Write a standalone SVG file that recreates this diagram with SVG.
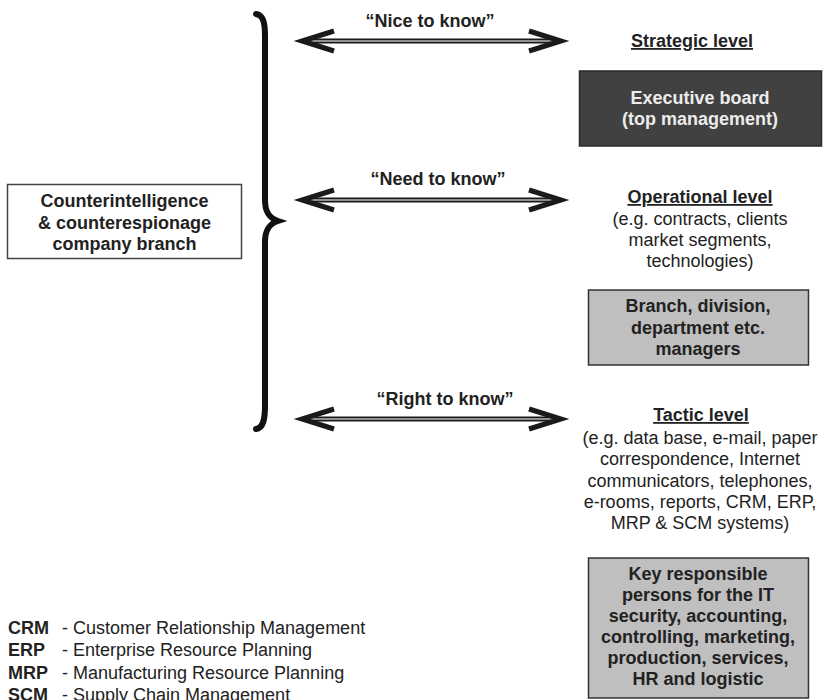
<svg xmlns="http://www.w3.org/2000/svg" width="824" height="700" viewBox="0 0 824 700">
  <style>
    text { font-family: "Liberation Sans", Arial, sans-serif; font-size: 18px; fill: #222; }
    .b { font-weight: bold; }
    .c { text-anchor: middle; }
    .u { text-decoration: underline; }
    .light { fill: #ececec; }
    .box { fill: #ffffff; stroke: #444; stroke-width: 1.5; }
    .dark { fill: #414141; stroke: #2a2a2a; stroke-width: 1.5; }
    .grey { fill: #bfbfbf; stroke: #333; stroke-width: 1.5; }
    .shaft { stroke: #1a1a1a; stroke-width: 5; fill: none; }
    .core { stroke: #b8b8b8; stroke-width: 1.6; fill: none; }
    .head { stroke: #1a1a1a; stroke-width: 5; fill: none; stroke-linejoin: miter; stroke-linecap: butt; }
    .brace { stroke: #111; stroke-width: 6; fill: none; stroke-linecap: round; }
  </style>
  <defs>
    <!-- double-headed arrow with a double-line shaft, drawn around y = 0 -->
    <g id="twoWay">
      <line class="shaft" x1="304" y1="0" x2="559" y2="0"/>
      <line class="core" x1="306" y1="0" x2="557" y2="0"/>
      <polyline class="head" points="334,-10 302,0 334,10"/>
      <polyline class="head" points="529,-10 561,0 529,10"/>
    </g>
  </defs>

  <!-- connectors: brace and the three information flows -->
  <g id="connectors">
    <path class="brace" d="M 256,14 C 263,15 265,22 265,36 L 265,200 C 265,212 269,218 278,221 C 269,224 265,230 265,242 L 265,406 C 265,420 263,428 256,429"/>
    <use href="#twoWay" y="41"/>
    <use href="#twoWay" y="200"/>
    <use href="#twoWay" y="419"/>
    <text class="b c" x="430" y="27">“Nice to know”</text>
    <text class="b c" x="438" y="185">“Need to know”</text>
    <text class="b c" x="445" y="405">“Right to know”</text>
  </g>

  <!-- counterintelligence branch -->
  <g id="branch">
    <rect class="box" x="7.5" y="184.5" width="234" height="74"/>
    <text class="b c" x="124.5" y="207">Counterintelligence</text>
    <text class="b c" x="124.5" y="229">&amp; counterespionage</text>
    <text class="b c" x="124.5" y="250">company branch</text>
  </g>

  <!-- strategic level -->
  <g id="strategic">
    <text class="b c u" x="692" y="47">Strategic level</text>
  </g>
  <g id="executive">
    <rect class="dark" x="579.5" y="71" width="242" height="75"/>
    <text class="b c light" x="700" y="104">Executive board</text>
    <text class="b c light" x="700" y="125">(top management)</text>
  </g>

  <!-- operational level -->
  <g id="operational">
    <text class="b c u" x="700" y="203">Operational level</text>
    <text class="c" x="700" y="225">(e.g. contracts, clients</text>
    <text class="c" x="700" y="246">market segments,</text>
    <text class="c" x="700" y="267">technologies)</text>
  </g>
  <g id="managers">
    <rect class="grey" x="588.5" y="290" width="220" height="75"/>
    <text class="b c" x="698" y="312">Branch, division,</text>
    <text class="b c" x="698" y="334">department etc.</text>
    <text class="b c" x="698" y="355">managers</text>
  </g>

  <!-- tactic level -->
  <g id="tactic">
    <text class="b c u" x="701" y="421">Tactic level</text>
    <text class="c" x="700" y="444">(e.g. data base, e-mail, paper</text>
    <text class="c" x="700" y="465">correspondence, Internet</text>
    <text class="c" x="700" y="487">communicators, telephones,</text>
    <text class="c" x="700" y="508">e-rooms, reports, CRM, ERP,</text>
    <text class="c" x="700" y="529">MRP &amp; SCM systems)</text>
  </g>
  <g id="keypersons">
    <rect class="grey" x="588.5" y="558" width="220" height="140"/>
    <text class="b c" x="698" y="580">Key responsible</text>
    <text class="b c" x="698" y="601">persons for the IT</text>
    <text class="b c" x="698" y="622">security, accounting,</text>
    <text class="b c" x="698" y="643">controlling, marketing,</text>
    <text class="b c" x="698" y="664">production, services,</text>
    <text class="b c" x="698" y="685">HR and logistic</text>
  </g>

  <!-- abbreviations -->
  <g id="legend">
    <text class="b" x="8" y="633.5">CRM</text>
    <text x="62" y="633.5">- Customer Relationship Management</text>
    <text class="b" x="8" y="656">ERP</text>
    <text x="62" y="656">- Enterprise Resource Planning</text>
    <text class="b" x="8" y="678.5">MRP</text>
    <text x="62" y="678.5">- Manufacturing Resource Planning</text>
    <text class="b" x="8" y="701">SCM</text>
    <text x="62" y="701">- Supply Chain Management</text>
  </g>
</svg>
